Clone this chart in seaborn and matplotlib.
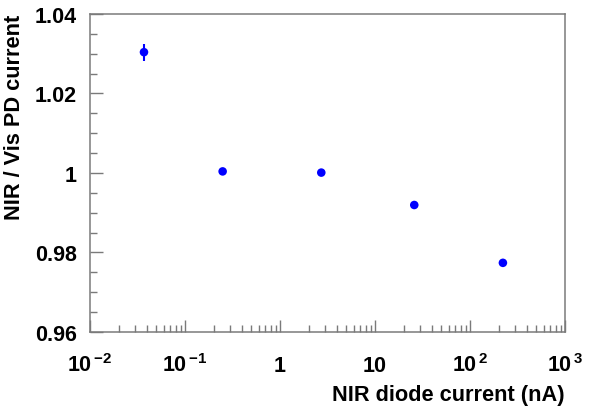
import matplotlib
matplotlib.use("Agg")
import matplotlib.pyplot as plt
import matplotlib.ticker as mticker
import seaborn as sns
import pandas as pd
import numpy as np

# Data
nir_current = [0.037, 0.249, 2.72, 25.9, 222.0]
ratio = [1.0304, 1.0004, 1.0001, 0.99195, 0.9774]
ratio_err = [0.0021, 0.0003, 0.0003, 0.0003, 0.0003]

xtick_vals = [0.01, 0.1, 1, 10, 100, 1000]
xtick_labels = [r"$\mathbf{10}^{\,\mathbf{-2}}$", r"$\mathbf{10}^{\,\mathbf{-1}}$", "1", "10",
                r"$\mathbf{10}^{\,\mathbf{2}}$", r"$\mathbf{10}^{\,\mathbf{3}}$"]
ytick_vals = [0.96, 0.98, 1.0, 1.02, 1.04]
ytick_labels = ["0.96", "0.98", "1", "1.02", "1.04"]

sns.set_theme(style="white")
plt.rcParams["font.family"] = ["Liberation Sans", "DejaVu Sans"]
plt.rcParams["mathtext.fontset"] = "custom"
plt.rcParams["mathtext.bf"] = "Liberation Sans:bold"
plt.rcParams["mathtext.rm"] = "Liberation Sans"

df = pd.DataFrame({"x": nir_current, "y": ratio, "err": ratio_err})

fig = plt.figure(figsize=(5.89, 4.10), dpi=100)
ax = fig.add_axes([90/589, 1 - 333/410, (565-90)/589, (333-15)/410])

ax.errorbar(df["x"], df["y"], yerr=df["err"], fmt="none", ecolor="#0000ff",
            elinewidth=1.5, capsize=0, zorder=2)
sns.scatterplot(data=df, x="x", y="y", ax=ax, color="#0000ff", s=38,
                edgecolor="none", zorder=3, legend=False)

ax.set_xscale("log")
ax.set_xlim(0.01, 1000)
ax.set_ylim(0.96, 1.04)

ax.xaxis.set_major_locator(mticker.FixedLocator(xtick_vals))
ax.xaxis.set_major_formatter(mticker.FixedFormatter(xtick_labels))
ax.xaxis.set_minor_locator(mticker.LogLocator(base=10, subs=np.arange(2, 10)))
ax.xaxis.set_minor_formatter(mticker.NullFormatter())
ax.yaxis.set_major_locator(mticker.FixedLocator(ytick_vals))
ax.yaxis.set_major_formatter(mticker.FixedFormatter(ytick_labels))
ax.yaxis.set_minor_locator(mticker.MultipleLocator(0.005))

spine_color = "#7a7a7a"
for s in ax.spines.values():
    s.set_color(spine_color)
    s.set_linewidth(1.1)
    s.set_visible(True)

ax.tick_params(axis="both", which="both", direction="in", colors=spine_color,
               top=False, right=False, bottom=True, left=True)
ax.tick_params(axis="both", which="major", length=9, width=1.0)
ax.tick_params(axis="both", which="minor", length=5, width=1.0)
ax.tick_params(axis="x", which="major", pad=28, labelsize=15.5, labelcolor="black")
ax.tick_params(axis="y", which="major", pad=9.5, labelsize=15.5, labelcolor="black")
for lab in ax.get_xticklabels():
    lab.set_fontweight("bold")
    lab.set_verticalalignment("baseline")
for lab in ax.get_yticklabels():
    lab.set_fontweight("bold")

ax.set_xlabel("NIR diode current (nA)", fontsize=15.7, fontweight="bold",
              loc="right", labelpad=6, color="black")
ax.set_ylabel("NIR / Vis PD current", fontsize=15.7, fontweight="bold",
              loc="top", labelpad=7, color="black")

fig.savefig("out.png", dpi=100, facecolor="white")
